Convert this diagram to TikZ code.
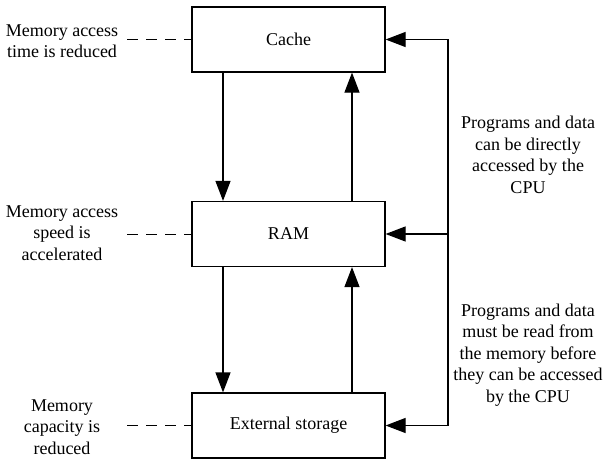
\documentclass[tikz,border=0pt]{standalone}
\usepackage{fontspec}
\setmainfont{Liberation Serif}
\usetikzlibrary{arrows.meta}

\begin{document}
\begin{tikzpicture}[x=1pt,y=-1pt,>={Triangle[length=20pt,width=15pt]},line width=1.2pt,
  mem node/.style={draw,minimum width=193pt,minimum height=65pt,inner sep=0pt,font=\fontsize{18}{21.5}\selectfont},
  note/.style={align=center,inner sep=0pt,font=\fontsize{18}{21.5}\selectfont},
  hint/.style={dash pattern=on 11pt off 8pt,line width=1pt}]

  \useasboundingbox (0,0) rectangle (605,460);

  \node[mem node] (cache) at (288.5,39.5) {Cache};
  \node[mem node] (ram) at (288.5,234) {RAM};
  \node[mem node] (ext) at (288.5,425.5) {External storage};

  \node[note] (n1) at (62,41) {Memory access\\time is reduced};
  \node[note] (n2) at (62,233) {Memory access\\speed is\\accelerated};
  \node[note] (n3) at (62,427) {Memory\\capacity is\\reduced};
  \node[note] (cpu1) at (528,155) {Programs and data\\can be directly\\accessed by the\\CPU};
  \node[note] (cpu2) at (528,355) {Programs and data\\must be read from\\the memory before\\they can be accessed\\by the CPU};

  \coordinate (d1) at (127,39.5);
  \coordinate (d2) at (127,234);
  \coordinate (d3) at (127,425.5);
  \coordinate (b1) at (448,39.5);
  \coordinate (b2) at (448,234);
  \coordinate (b3) at (448,425.5);

  % dashed hints
  \draw[hint] (d1) -- (cache.west);
  \draw[hint] (d2) -- (ram.west);
  \draw[hint] (d3) -- (ext.west);

  % transfers between levels
  \draw[->] (cache.south -| 223,0) -- (ram.north -| 223,0);
  \draw[->] (ram.north -| 352,0) -- (cache.south -| 352,0);
  \draw[->] (ram.south -| 223,0) -- (ext.north -| 223,0);
  \draw[->] (ext.north -| 352,0) -- (ram.south -| 352,0);

  % CPU side
  \draw (b1) -- (b3);
  \draw[->] (b1) -- (cache.east);
  \draw[->] (b2) -- (ram.east);
  \draw[->] (b3) -- (ext.east);

\end{tikzpicture}
\end{document}
